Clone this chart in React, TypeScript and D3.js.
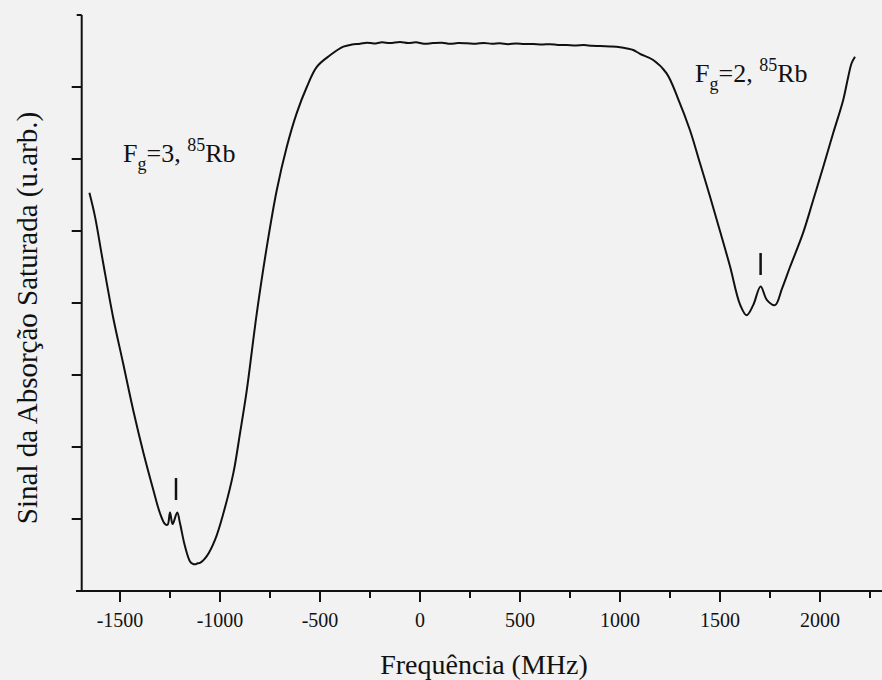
import React from "react";
import * as d3 from "d3";

// Frequency (MHz) and saturated absorption signal (arb. units)
const freqMHz = [
  -1653, -1625, -1585, -1535, -1485, -1433, -1383, -1333, -1300, -1275, -1262,
  -1250, -1237, -1214, -1200, -1175, -1150, -1138, -1125, -1112, -1100, -1067, -1025,
  -983, -933, -900, -866, -816, -766, -716, -666, -616, -566, -516, -450, -383, -340,
  -300, -266, -230, -190, -150, -100, -60, -20, 20, 65, 110, 150, 190, 233, 280, 320,
  360, 400, 440, 480, 520, 565, 610, 650, 690, 733, 780, 820, 860, 900, 950, 1000,
  1035, 1066, 1100, 1166, 1233, 1290, 1350, 1400, 1450, 1500, 1550, 1600, 1633, 1666,
  1703, 1735, 1775, 1810, 1850, 1915, 1966, 2016, 2066, 2116, 2141, 2158, 2175,
];
const signal = [
  5.53, 5.20, 4.57, 3.81, 3.17, 2.50, 1.92, 1.40, 1.08, 0.93, 0.92,
  1.09, 0.93, 1.09, 0.94, 0.62, 0.41, 0.38, 0.37, 0.385, 0.39, 0.48, 0.71,
  1.08, 1.64, 2.19, 2.79, 3.86, 4.78, 5.57, 6.17, 6.64, 7.00, 7.28, 7.44, 7.56, 7.59,
  7.60, 7.615, 7.605, 7.62, 7.61, 7.625, 7.61, 7.62, 7.60, 7.61, 7.615, 7.60, 7.61, 7.607, 7.60, 7.612,
  7.60, 7.607, 7.595, 7.605, 7.598, 7.597, 7.59, 7.595, 7.585, 7.583, 7.578, 7.582, 7.572, 7.569, 7.562, 7.551,
  7.535, 7.514, 7.46, 7.375, 7.19, 6.84, 6.40, 5.94, 5.48, 5.00, 4.51, 3.98, 3.83, 3.97,
  4.23, 4.04, 3.97, 4.20, 4.50, 4.97, 5.43, 5.89, 6.36, 6.82, 7.14, 7.33, 7.42,
];

// Hyperfine-peak markers: freq, lower and upper value
const markerFreq = [-1220, 1703];
const markerLow = [1.264, 4.389];
const markerHigh = [1.569, 4.694];

const xTickValues = [-1500, -1000, -500, 0, 500, 1000, 1500, 2000];
const xMinorTicks = [-1250, -750, -250, 250, 750, 1250, 1750, 2250];
const yTickValues = [1, 2, 3, 4, 5, 6, 7, 8];

const xAxisTitle = "Frequência (MHz)";
const yAxisTitle = "Sinal da Absorção Saturada (u.arb.)";

const W = 882;
const H = 680;
const FONT = "'Liberation Serif', 'Times New Roman', serif";

export default function App() {
  const x = d3.scaleLinear().domain([-1500, 2000]).range([120, 820]);
  const y = d3.scaleLinear().domain([0, 8]).range([591, 15]);
  const axisLeft = x(-1691.5);

  const pts: [number, number][] = freqMHz.map((f, i) => [f, signal[i]]);
  const line = d3
    .line<[number, number]>()
    .x((d) => x(d[0]))
    .y((d) => y(d[1]))
    .curve(d3.curveCatmullRom.alpha(0.5));

  const labelStyle = { fontFamily: FONT, fill: "#111" } as const;

  return (
    <div style={{ position: "fixed", left: 0, top: 0 }}>
      <svg width={W} height={H} viewBox={`0 0 ${W} ${H}`} style={{ display: "block" }}>
        <rect x={0} y={0} width={W} height={H} fill="#f2f2f2" />
        {/* axes */}
        <line x1={axisLeft} x2={axisLeft} y1={y(8)} y2={y(0)} stroke="#111" strokeWidth={2} />
        <line x1={76} x2={W} y1={y(0)} y2={y(0)} stroke="#111" strokeWidth={2} />
        {yTickValues.map((v) => (
          <line
            key={"yt" + v}
            x1={axisLeft - (v === 8 ? 5 : 10)}
            x2={axisLeft}
            y1={y(v)}
            y2={y(v)}
            stroke="#111"
            strokeWidth={2}
          />
        ))}
        {xTickValues.map((v) => (
          <g key={"xt" + v}>
            <line x1={x(v)} x2={x(v)} y1={y(0)} y2={y(0) + 11} stroke="#111" strokeWidth={2} />
            <text x={x(v)} y={627} textAnchor="middle" fontSize={20} style={labelStyle}>
              {v}
            </text>
          </g>
        ))}
        {xMinorTicks.map((v) => (
          <line key={"xm" + v} x1={x(v)} x2={x(v)} y1={y(0)} y2={y(0) + 7} stroke="#111" strokeWidth={2} />
        ))}
        {/* titles */}
        <text x={484} y={674} textAnchor="middle" fontSize={28} style={labelStyle}>
          {xAxisTitle}
        </text>
        <text
          transform={`translate(37, 318) rotate(-90)`}
          textAnchor="middle"
          fontSize={29}
          style={labelStyle}
        >
          {yAxisTitle}
        </text>
        {/* curve */}
        <path d={line(pts) ?? ""} fill="none" stroke="#111" strokeWidth={2} strokeLinejoin="round" />
        {/* markers */}
        {markerFreq.map((f, i) => (
          <line
            key={"mk" + i}
            x1={x(f)}
            x2={x(f)}
            y1={y(markerLow[i])}
            y2={y(markerHigh[i])}
            stroke="#111"
            strokeWidth={2.5}
          />
        ))}
        {/* annotations */}
        <text x={123} y={162} fontSize={26} style={labelStyle}>
          F
          <tspan fontSize={18} dy={8}>g</tspan>
          <tspan dy={-8}>=3, </tspan>
          <tspan fontSize={18} dy={-11}>85</tspan>
          <tspan dy={11}>Rb</tspan>
        </text>
        <text x={695} y={82} fontSize={26} style={labelStyle}>
          F
          <tspan fontSize={18} dy={8}>g</tspan>
          <tspan dy={-8}>=2, </tspan>
          <tspan fontSize={18} dy={-11}>85</tspan>
          <tspan dy={11}>Rb</tspan>
        </text>
      </svg>
    </div>
  );
}
